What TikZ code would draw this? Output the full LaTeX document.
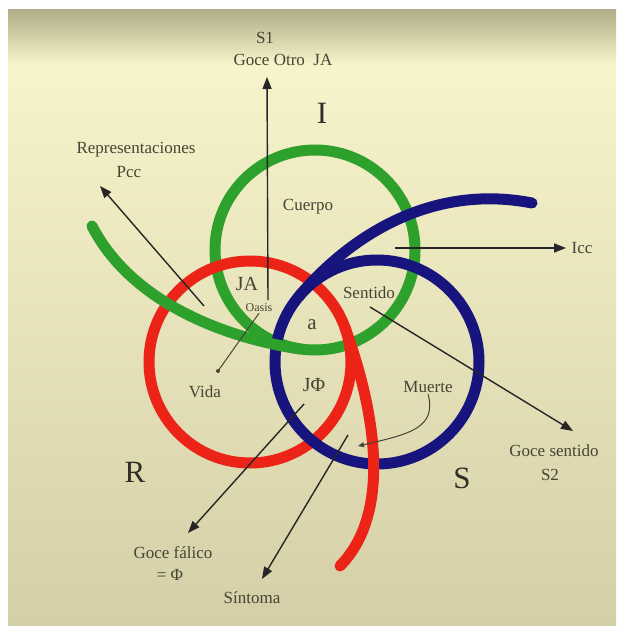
\documentclass[tikz,border=0pt]{standalone}
\usepackage{fontspec}
\setmainfont{Liberation Serif}
\usetikzlibrary{arrows.meta,positioning}
\definecolor{ringgreen}{RGB}{46,160,44}
\definecolor{ringred}{RGB}{236,36,24}
\definecolor{ringblue}{RGB}{24,20,126}
\definecolor{bgtop}{RGB}{176,174,136}
\definecolor{bgcream}{RGB}{247,243,202}
\definecolor{bgmid}{RGB}{245,240,196}
\definecolor{bgbot}{RGB}{212,207,166}
\definecolor{labelgray}{RGB}{70,68,52}
\definecolor{biggray}{RGB}{48,46,38}
\tikzset{
  ring/.style={line width=11pt},
  tail/.style={line width=11pt,line cap=round},
  lbl/.style={font=\fontsize{17}{19}\selectfont,text=labelgray,inner sep=1pt},
  big/.style={font=\fontsize{31}{33}\selectfont,text=biggray,inner sep=1pt},
}

\begin{document}
\begin{tikzpicture}[x=1pt,y=-1pt,
   arr/.style={-{Triangle[length=12pt,width=9pt]},line width=1.4pt,draw=black!85},
   thin arr/.style={-{Triangle[length=6pt,width=5pt]},line width=1pt,draw=labelgray}]
  \useasboundingbox (0,0) rectangle (616,626);
  \fill[white] (0,0) rectangle (616,626);
  \shade[top color=bgtop,bottom color=bgcream] (8,10) rectangle (616,64);
  \shade[top color=bgcream,middle color=bgmid,bottom color=bgbot] (8,64) rectangle (616,626);

  % rings
  \draw[ring,ringgreen] (315,250) circle[radius=100];
  \draw[ring,ringred] (250,362) circle[radius=101];
  \draw[ring,ringblue] (377,362) circle[radius=102];
  % tails
  \draw[tail,ringgreen] (300,349) .. controls (220,337) and (130,300) .. (92,226);
  \draw[tail,ringred] (344.9,327.5) .. controls (372.3,402.7) and (395,510) .. (340,566);
  \draw[tail,ringblue] (298.9,296.4) .. controls (348,238) and (430,183) .. (532,203);

  % labels
  \node[lbl] (s1) at (265,38) {S1};
  \node[lbl] (goceotro) at (283,60) {Goce Otro\ \ JA};
  \node[lbl] (repr) at (136,150) {Representaciones};
  \node[lbl] (pcc) at (129,172) {Pcc};
  \node[lbl] (cuerpo) at (308,207) {Cuerpo};
  \node[lbl] (icc) at (582,248) {Icc};
  \node[lbl,font=\fontsize{20}{22}\selectfont] (ja) at (247,284) {JA};
  \node[lbl,font=\fontsize{12}{14}\selectfont] (oasis) at (259,308) {Oasis};
  \node[lbl] (sentido) at (369,293) {Sentido};
  \node[lbl,font=\fontsize{21}{23}\selectfont] (a) at (312,325) {a};
  \node[lbl] (vida) at (205,392) {Vida};
  \node[lbl,font=\fontsize{20}{22}\selectfont] (jphi) at (314,385) {JΦ};
  \node[lbl] (muerte) at (428,387) {Muerte};
  \node[lbl] (gocesentido) at (554,451) {Goce sentido};
  \node[lbl] (s2) at (550,475) {S2};
  \node[lbl] (gocefalico) at (173,553) {Goce fálico};
  \node[lbl] (phi) at (170,575) {= Φ};
  \node[lbl] (sintoma) at (252,598) {Síntoma};
  \foreach \t/\x/\y/\n in {I/322/113/regI,R/135/472/regR,S/462/478/regS}
    \node[big] (\n) at (\x,\y) {\t};

  % arrow ends
  \coordinate (vbot) at (268,300);
  \coordinate (vtop) at (267,77);
  \coordinate (reprfrom) at (204,306);
  \coordinate (reprtip) at (100,186);
  \coordinate (iccfrom) at (395,248);
  \coordinate (icctip) at (566,248);
  \coordinate (sentfrom) at (370,307);
  \coordinate (senttip) at (573,431);
  \coordinate (vidadot) at (218,371);
  \coordinate (jphifrom) at (304,404);
  \coordinate (falicotip) at (188,533);
  \coordinate (sintfrom) at (348,435);
  \coordinate (sinttip) at (262,579);
  \coordinate (muertetip) at (358,446);

  % connectors
  \draw[arr] (vbot) -- (vtop);
  \draw[arr] (reprfrom) -- (reprtip);
  \draw[arr] (iccfrom) -- (icctip);
  \draw[arr] (sentfrom) -- (senttip);
  \draw[line width=1pt,draw=labelgray] (oasis.south) -- (vidadot);
  \fill[labelgray] (vidadot) circle[radius=2];
  \draw[arr] (jphifrom) -- (falicotip);
  \draw[arr] (sintfrom) -- (sinttip);
  \draw[thin arr] (muerte.south) .. controls (437,428) and (410,434) .. (muertetip);
\end{tikzpicture}
\end{document}
